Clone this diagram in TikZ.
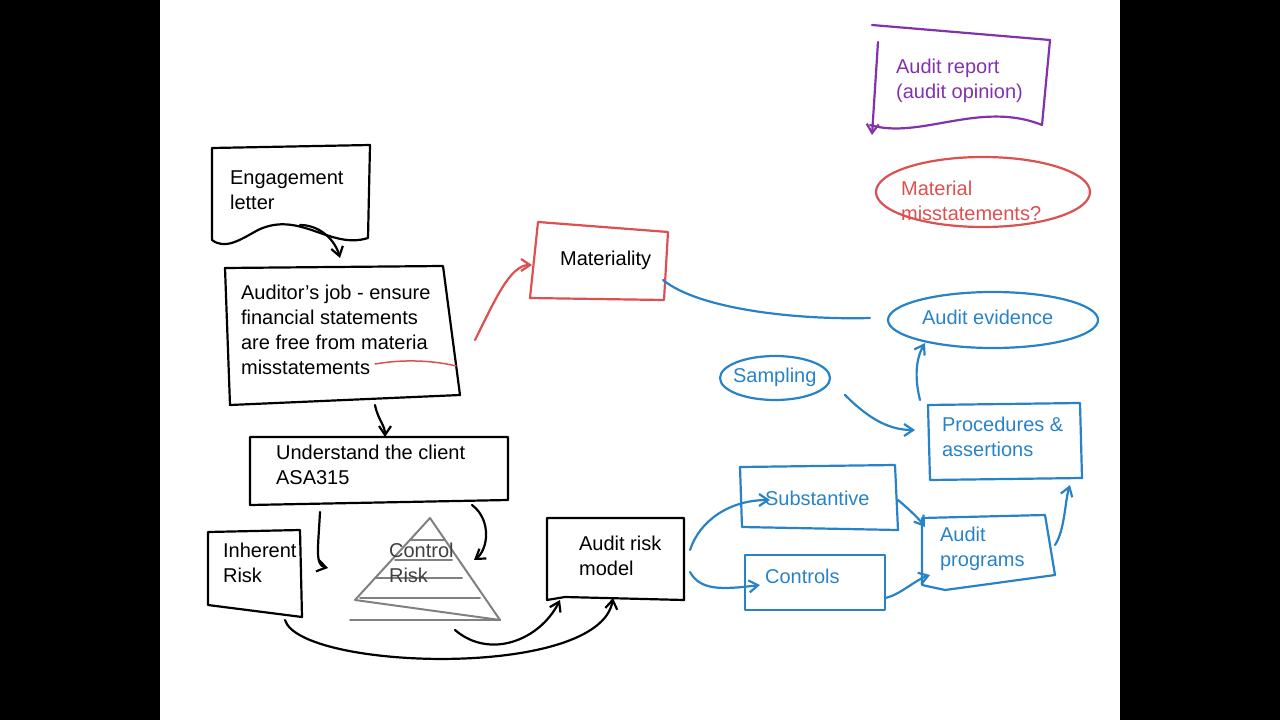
\documentclass[tikz,border=0pt]{standalone}
\usepackage{fontspec}
\setmainfont{Liberation Sans}
\usetikzlibrary{arrows.meta,shapes.geometric}
\definecolor{bl}{RGB}{40,130,200}
\definecolor{rd}{RGB}{220,80,80}
\definecolor{pu}{RGB}{130,50,170}
\begin{document}
\begin{tikzpicture}[x=1pt,y=-1pt,line width=2.2pt,line cap=round,line join=round,
  txt/.style={align=left,anchor=north west,inner sep=0pt,font=\fontsize{20}{25}\selectfont},
  arr/.style={-{Straight Barb[length=9pt,width=12pt]}}]
\useasboundingbox (0,0) rectangle (1280,720);
\fill[black] (0,0) rectangle (160,720);
\fill[black] (1120,0) rectangle (1280,720);
% black boxes
\draw (212,148) -- (370,145) -- (368,238) .. controls (330,250) and (300,210) .. (258,230) .. controls (240,240) and (225,250) .. (212,240) -- cycle;
\node[txt] (eng) at (229,170) {Engagement\\letter};
\draw (225,268) -- (443,266) -- (460,395) -- (230,405) -- cycle;
\node[txt] (job) at (240,284) {Auditor's job - ensure\\financial statements\\are free from materia\\misstatements};
\draw[rd,line width=1.5pt] (375,364) .. controls (410,358) and (440,362) .. (456,366);
\draw (250,437) -- (508,437) -- (508,500) -- (250,505) -- cycle;
\node[txt] (und) at (275,444) {Understand the client\\ASA315};
\draw (208,532) -- (300,530) -- (302,617) -- (208,605) -- cycle;
\node[txt] (inh) at (222,542) {Inherent\\Risk};
\draw[gray,line width=2pt] (430,518) -- (355,600) -- (500,620) -- cycle;
\draw[gray,line width=2pt] (350,620) -- (500,620) (360,598) -- (480,598) (375,578) -- (462,578) (395,560) -- (452,560) (410,540)--(445,540);
\node[txt,gray!50!black] (ctl) at (388,542) {Control\\Risk};
\draw (547,518) -- (684,518) -- (684,600) -- (565,597) -- (547,600) -- cycle;
\node[txt] (arm) at (578,535) {Audit risk\\model};
% red
\draw[rd] (538,222) -- (668,232) -- (664,300) -- (530,298) -- cycle;
\node[txt] (mat) at (559,250) {Materiality};
\draw[rd,arr] (475,340) .. controls (495,300) and (510,265) .. (532,265);
\draw[rd] (983,192) ellipse [x radius=107,y radius=35];
\node[txt,rd] (mm) at (900,180) {Material\\misstatements?};
% purple
\draw[pu] (872,25) -- (1050,40) -- (1042,125) .. controls (980,100) and (920,140) .. (870,125);
\draw[pu,arr] (878,42) -- (872,135);
\node[txt,pu] (rep) at (895,58) {Audit report\\(audit opinion)};
% blue
\draw[bl] (993,320) ellipse [x radius=105,y radius=28];
\node[txt,bl] (ev) at (921,309) {Audit evidence};
\draw[bl] (775,378) ellipse [x radius=55,y radius=22];
\node[txt,bl] (samp) at (732,367) {Sampling};
\draw[bl] (928,405) -- (1080,403) -- (1082,478) -- (930,480) -- cycle;
\node[txt,bl] (proc) at (941,416) {Procedures \&\\assertions};
\draw[bl] (740,467) -- (895,465) -- (898,530) -- (742,527) -- cycle;
\node[txt,bl] (sub) at (764,490) {Substantive};
\draw[bl] (745,555) -- (885,555) -- (885,610) -- (745,610) -- cycle;
\node[txt,bl] (con) at (764,568) {Controls};
\draw[bl] (922,518) -- (1045,515) -- (1055,575) -- (945,590) -- (922,585) -- cycle;
\node[txt,bl] (prog) at (939,526) {Audit\\programs};
% connectors
\draw[arr] (300,225) .. controls (320,225) and (335,240) .. (340,258);
\draw[arr] (375,405) .. controls (378,420) and (385,425) .. (385,437);
\draw[arr] (320,512) .. controls (318,550) and (315,565) .. (328,568);
\draw[arr] (472,505) .. controls (492,520) and (488,550) .. (474,560);
\draw[arr] (285,620) .. controls (300,670) and (600,680) .. (613,598);
\draw[arr] (455,630) .. controls (490,660) and (540,640) .. (560,600);
\draw[bl] (663,280) .. controls (700,310) and (800,320) .. (870,318);
\draw[bl,arr] (845,395) .. controls (870,420) and (890,430) .. (915,430);
\draw[bl,arr] (920,400) .. controls (915,380) and (915,360) .. (925,343);
\draw[bl,arr] (690,550) .. controls (700,520) and (730,500) .. (770,500);
\draw[bl,arr] (690,572) .. controls (700,590) and (720,590) .. (760,585);
\draw[bl,arr] (898,500) .. controls (910,510) and (920,520) .. (925,527);
\draw[bl,arr] (885,598) .. controls (900,595) and (915,580) .. (930,575);
\draw[bl,arr] (1055,545) .. controls (1065,530) and (1065,500) .. (1070,485);
\end{tikzpicture}
\end{document}
